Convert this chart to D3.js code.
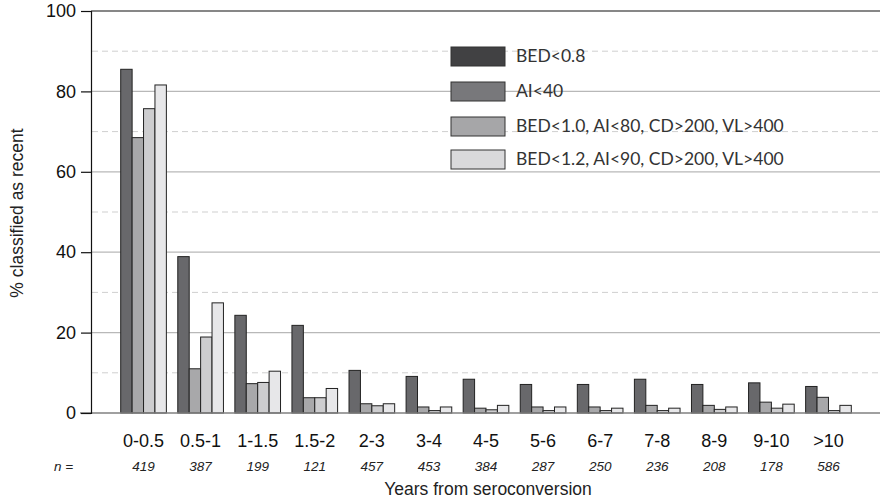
<!DOCTYPE html>
<meta charset="utf-8">
<script src="https://d3js.org/d3.v7.min.js"></script>
<style>
  body { margin: 0; background: #fff; }
</style>
<div id="my_dataviz"></div>
<script>

  // categories, sample sizes and series
  var categories = ["0-0.5", "0.5-1", "1-1.5", "1.5-2", "2-3", "3-4", "4-5", "5-6", "6-7", "7-8", "8-9", "9-10", ">10"];
  var counts = [419, 387, 199, 121, 457, 453, 384, 287, 250, 236, 208, 178, 586];
  var seriesNames = ["BED<0.8", "AI<40", "BED<1.0, AI<80, CD>200, VL>400", "BED<1.2, AI<90, CD>200, VL>400"];
  var bed08 = [85.5, 38.9, 24.3, 21.8, 10.6, 9.1, 8.4, 7.1, 7.1, 8.4, 7.1, 7.5, 6.6];
  var ai40 = [68.5, 11.0, 7.3, 3.8, 2.3, 1.5, 1.2, 1.5, 1.5, 1.9, 1.9, 2.7, 3.9];
  var multi10 = [75.7, 18.9, 7.6, 3.8, 1.8, 0.6, 0.8, 0.6, 0.6, 0.6, 0.9, 1.2, 0.6];
  var multi12 = [81.6, 27.4, 10.4, 6.1, 2.3, 1.5, 1.9, 1.5, 1.2, 1.2, 1.5, 2.2, 1.9];
  var yTicks = [0, 20, 40, 60, 80, 100];
  var yMinor = [10, 30, 50, 70, 90];

  var allSeries = [bed08, ai40, multi10, multi12];
  var barColors = ["#68686b", "#a8a8aa", "#cdcdcf", "#e7e7e9"];
  var legendColors = ["#414143", "#78787b", "#a6a6a8", "#d9d9db"];

  var width = 882, height = 499;
  var plotLeft = 91, plotRight = 880, plotTop = 11, plotBottom = 413;

  var svg = d3.select("#my_dataviz")
    .append("svg")
    .attr("width", width)
    .attr("height", height)
    .style("font-family", "'Liberation Sans', Arial, sans-serif");

  var x0 = d3.scaleBand().domain(categories).range([115, 857]).paddingInner(0.2).paddingOuter(0.1);
  var x1 = d3.scaleBand().domain(d3.range(4)).range([0, x0.bandwidth()]);
  var y = d3.scaleLinear().domain([0, 100]).range([plotBottom, plotTop]);

  // grid lines
  svg.append("g")
    .selectAll("line")
    .data(yMinor)
    .enter()
    .append("line")
    .attr("x1", plotLeft + 1).attr("x2", plotRight)
    .attr("y1", function (d) { return y(d); })
    .attr("y2", function (d) { return y(d); })
    .attr("stroke", "#cfcfcf")
    .attr("stroke-dasharray", "6,4");

  svg.append("g")
    .selectAll("line")
    .data(yTicks.filter(function (d) { return d > 0 && d < 100; }))
    .enter()
    .append("line")
    .attr("x1", plotLeft).attr("x2", plotRight)
    .attr("y1", function (d) { return y(d); })
    .attr("y2", function (d) { return y(d); })
    .attr("stroke", "#b8b8b8")
    .attr("stroke-width", 1.2);

  // top border
  svg.append("line")
    .attr("x1", plotLeft).attr("x2", plotRight)
    .attr("y1", y(100)).attr("y2", y(100))
    .attr("stroke", "#111").attr("stroke-width", 1.2);

  // legend (drawn under the bars; no background)
  var legend = svg.append("g").attr("transform", "translate(451,47)");
  var legendY = [0, 35, 70, 103];
  seriesNames.forEach(function (name, i) {
    legend.append("rect")
      .attr("x", 0).attr("y", legendY[i])
      .attr("width", 54).attr("height", 19)
      .attr("fill", legendColors[i])
      .attr("stroke", "#333").attr("stroke-width", 1);
    legend.append("text")
      .attr("x", 65).attr("y", legendY[i] + 9)
      .attr("dy", "0.35em")
      .style("font-family", "Lato, 'Open Sans', sans-serif")
      .style("font-size", "17.5px")
      .attr("fill", "#333")
      .text(name);
  });

  // bars
  var groups = svg.append("g")
    .selectAll("g")
    .data(categories)
    .enter()
    .append("g")
    .attr("transform", function (d) { return "translate(" + x0(d) + ",0)"; });

  groups.selectAll("rect")
    .data(function (d, i) { return allSeries.map(function (s, k) { return { k: k, v: s[i] }; }); })
    .enter()
    .append("rect")
    .attr("x", function (d) { return x1(d.k); })
    .attr("y", function (d) { return y(d.v); })
    .attr("width", x1.bandwidth())
    .attr("height", function (d) { return y(0) - y(d.v); })
    .attr("fill", function (d) { return barColors[d.k]; })
    .attr("stroke", "#222")
    .attr("stroke-width", 1);

  // x baseline
  svg.append("line")
    .attr("x1", 80).attr("x2", plotRight)
    .attr("y1", y(0)).attr("y2", y(0))
    .attr("stroke", "#808080").attr("stroke-width", 1.6);

  // Y axis
  var yAxis = svg.append("g")
    .attr("transform", "translate(" + plotLeft + ",0)")
    .call(d3.axisLeft(y).tickValues(yTicks).tickSize(10).tickPadding(5));
  yAxis.select(".domain").attr("stroke", "#111").attr("stroke-width", 1.2);
  yAxis.selectAll(".tick line").attr("stroke", "#111").attr("stroke-width", 1.2);
  yAxis.selectAll(".tick text")
    .style("font-size", "18px")
    .style("font-family", "'Liberation Sans', Arial, sans-serif")
    .attr("fill", "#111");

  // X labels
  var xAxis = svg.append("g")
    .attr("transform", "translate(0," + y(0) + ")")
    .call(d3.axisBottom(x0).tickSize(0).tickPadding(21));
  xAxis.select(".domain").remove();
  xAxis.selectAll(".tick text")
    .style("font-size", "18px")
    .style("font-family", "'Liberation Sans', Arial, sans-serif")
    .attr("fill", "#111");

  // n labels
  svg.append("text")
    .attr("x", 54).attr("y", 471)
    .style("font-size", "13.5px").style("font-style", "italic")
    .attr("fill", "#222")
    .text("n =");

  svg.append("g")
    .selectAll("text")
    .data(counts)
    .enter()
    .append("text")
    .attr("x", function (d, i) { return x0(categories[i]) + x0.bandwidth() / 2; })
    .attr("y", 471)
    .attr("text-anchor", "middle")
    .style("font-size", "13.5px").style("font-style", "italic")
    .attr("fill", "#222")
    .text(function (d) { return d; });

  // axis titles
  svg.append("text")
    .attr("x", 488).attr("y", 495)
    .attr("text-anchor", "middle")
    .style("font-size", "17.5px")
    .attr("fill", "#222")
    .text("Years from seroconversion");

  svg.append("text")
    .attr("transform", "translate(23,213) rotate(-90)")
    .attr("text-anchor", "middle")
    .style("font-size", "17.5px")
    .attr("fill", "#222")
    .text("% classified as recent");

</script>
